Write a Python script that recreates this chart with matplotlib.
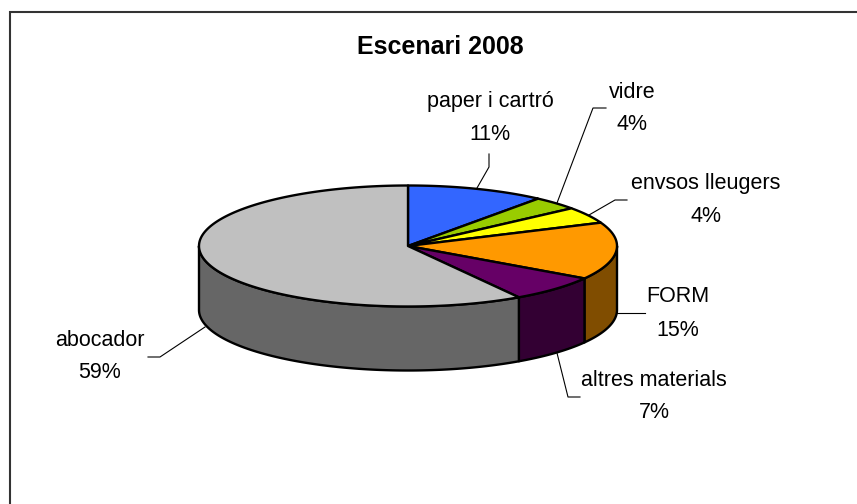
import matplotlib
matplotlib.use("Agg")
import matplotlib.pyplot as plt
import numpy as np

title = "Escenari 2008"
names = ["paper i cartró", "vidre", "envsos lleugers", "FORM", "altres materials", "abocador"]
values = [10.7, 3.6, 4.4, 15.3, 7.1, 58.9]
top_colors = ["#3366FF", "#99CC00", "#FFFF00", "#FF9900", "#660066", "#C0C0C0"]
side_colors = ["#1A3380", "#4D6600", "#808000", "#804D00", "#330033", "#666666"]

# label centre x, name y, percent y
label_x = [490, 632, 706, 678, 654, 100]
name_y = [101, 92, 184, 296, 380, 341]
pct_y = [134, 125, 217, 330, 413, 373]

# leader lines
leaders = [
    ([477, 489, 489], [188, 167, 154]),
    ([557, 593, 606], [203, 108, 108]),
    ([589, 615, 627], [215, 200, 200]),
    ([617, 645], [313, 313]),
    ([557, 568, 580], [353, 397, 397]),
    ([205, 160, 148], [327, 357, 357]),
]

cx, cy = 408, 246
rx, ry = 209, 60.5
depth = 64

plt.rcParams["font.family"] = ["Liberation Sans", "DejaVu Sans"]

fig = plt.figure(figsize=(8.57, 5.04), dpi=100)
ax = fig.add_axes([0, 0, 1, 1])
ax.set_xlim(0, 857)
ax.set_ylim(504, 0)
ax.axis("off")


def rim(a0, a1, dy=0):
    # angles in degrees, clockwise from 12 o'clock
    t = np.radians(np.linspace(a0, a1, max(int(abs(a1 - a0) * 2), 2)))
    return cx + rx * np.sin(t), cy - ry * np.cos(t) + dy


# outer frame, open on the right and bottom
ax.plot([10, 10, 857], [504, 12, 12], color="#333333", lw=1.5, solid_joinstyle="miter", zorder=1)

edges = np.cumsum([0] + values) / np.sum(values) * 360

# side wall of the front half
for i in range(len(values)):
    a0 = max(edges[i], 90)
    a1 = min(edges[i + 1], 270)
    if a1 <= a0:
        continue
    x0, y0 = rim(a0, a1)
    x1, y1 = rim(a0, a1, depth)
    ax.fill(np.r_[x0, x1[::-1]], np.r_[y0, y1[::-1]], facecolor=side_colors[i],
            edgecolor="black", lw=1.7, joinstyle="round", zorder=2)

# top surface
for i in range(len(values)):
    x, y = rim(edges[i], edges[i + 1])
    ax.fill(np.r_[cx, x], np.r_[cy, y], facecolor=top_colors[i],
            edgecolor="black", lw=1.7, joinstyle="round", zorder=3)

for lx, ly in leaders:
    ax.plot(lx, ly, color="black", lw=0.8, zorder=4)

for i in range(len(names)):
    ax.text(label_x[i], name_y[i], names[i], fontsize=15.5, ha="center", va="center", color="black")
    ax.text(label_x[i], pct_y[i], "%d%%" % round(values[i]), fontsize=15.5, ha="center", va="center", color="black")

ax.text(440.5, 47, title, fontsize=18, fontweight="bold", ha="center", va="center", color="black")

fig.savefig("out.png", dpi=100, facecolor="white")
